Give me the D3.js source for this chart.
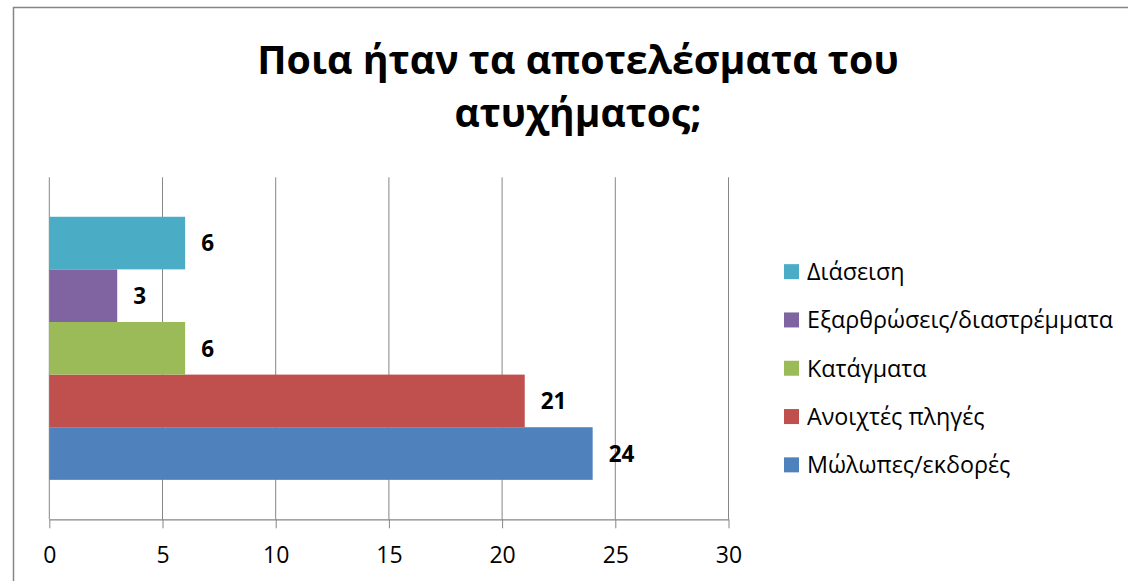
<!DOCTYPE html>
<html>
<head>
<meta charset="utf-8">
<script src="https://cdn.jsdelivr.net/npm/d3@7"></script>
<style>
  body { margin: 0; background: #fff; }
  svg { display: block; font-family: "Open Sans", "Noto Sans", sans-serif; }
</style>
</head>
<body>
<div id="chart"></div>
<script>
// chart data
var titleLines = ["Ποια ήταν τα αποτελέσματα του", "ατυχήματος;"];
var categories = [""];
var seriesNames = ["Μώλωπες/εκδορές", "Ανοιχτές πληγές", "Κατάγματα", "Εξαρθρώσεις/διαστρέμματα", "Διάσειση"];
var seriesValues = [24, 21, 6, 3, 6];
var seriesColors = ["#4F81BD", "#C0504D", "#9BBB59", "#8064A2", "#4BACC6"];
var xTicks = [0, 5, 10, 15, 20, 25, 30];

function init() {
    var w = 1128,
        h = 581;
    var plot = { left: 49.3, right: 728.5, top: 177.3, bottom: 519.3 };

    var svg = d3
        .select("#chart")
        .append("svg")
        .attr("width", w)
        .attr("height", h);

    // shrink/grow a text to a given width
    function fitWidth(sel, target) {
        var fs = parseFloat(sel.attr("font-size"));
        var len = sel.node().getComputedTextLength();
        sel.attr("font-size", fs * target / len);
    }

    // outer border (runs past the window on right and bottom)
    svg.append("rect")
        .attr("x", 13.5)
        .attr("y", 7.5)
        .attr("width", 1130)
        .attr("height", 600)
        .attr("fill", "none")
        .attr("stroke", "#868686")
        .attr("stroke-width", 1.5);

    // title
    var titleWidths = [642, 247];
    var titleBase = [73.5, 127];
    titleLines.forEach(function (t, i) {
        var tx = svg.append("text")
            .attr("x", 578)
            .attr("y", titleBase[i])
            .attr("text-anchor", "middle")
            .attr("font-weight", "bold")
            .attr("font-size", 40)
            .attr("fill", "#000")
            .text(t);
        fitWidth(tx, titleWidths[i]);
    });

    // scales
    var xScale = d3.scaleLinear().domain([0, 30]).range([plot.left, plot.right]);

    var catScale = d3.scaleBand()
        .domain(categories)
        .range([plot.top, plot.bottom])
        .paddingOuter(0.15)
        .paddingInner(0);

    var topToBottom = seriesNames.slice().reverse();
    var seriesScale = d3.scaleBand()
        .domain(topToBottom)
        .range([catScale(""), catScale("") + catScale.bandwidth()])
        .padding(0);

    var color = d3.scaleOrdinal().domain(seriesNames).range(seriesColors);

    // gridlines
    svg.append("g")
        .selectAll("line")
        .data(xTicks)
        .enter()
        .append("line")
        .attr("x1", d => xScale(d))
        .attr("x2", d => xScale(d))
        .attr("y1", plot.top)
        .attr("y2", plot.bottom)
        .attr("stroke", "#868686")
        .attr("stroke-width", 1);

    // bars
    var rows = seriesNames.map((s, i) => ({ name: s, value: seriesValues[i] }));

    svg.append("g")
        .selectAll("rect")
        .data(rows)
        .enter()
        .append("rect")
        .attr("x", xScale(0))
        .attr("y", d => seriesScale(d.name))
        .attr("width", d => xScale(d.value) - xScale(0))
        .attr("height", seriesScale.bandwidth())
        .attr("fill", d => color(d.name));

    // value labels
    svg.append("g")
        .selectAll("text")
        .data(rows)
        .enter()
        .append("text")
        .attr("x", d => xScale(d.value) + 16)
        .attr("y", d => seriesScale(d.name) + seriesScale.bandwidth() / 2)
        .attr("dy", "0.37em")
        .attr("font-weight", "bold")
        .attr("font-size", 22.5)
        .attr("fill", "#000")
        .text(d => d.value);

    // x axis
    var xAxis = d3.axisBottom(xScale)
        .tickValues(xTicks)
        .tickSize(9)
        .tickSizeOuter(0)
        .tickPadding(18.5);

    var axisG = svg.append("g")
        .attr("transform", "translate(0," + plot.bottom + ")")
        .call(xAxis);
    axisG.select(".domain").attr("stroke", "#868686").attr("stroke-width", 1.3);
    axisG.selectAll(".tick line").attr("stroke", "#868686").attr("stroke-width", 1);
    axisG.selectAll(".tick text")
        .attr("font-family", "'Open Sans', sans-serif")
        .attr("font-size", 23)
        .attr("fill", "#000");

    // legend
    var legendScale = d3.scaleBand()
        .domain(topToBottom)
        .range([247.5, 489]);

    var legend = svg.append("g");
    var items = legend.selectAll("g")
        .data(topToBottom)
        .enter()
        .append("g")
        .attr("transform", d => "translate(784," + (legendScale(d) + legendScale.bandwidth() / 2) + ")");

    items.append("rect")
        .attr("x", 0)
        .attr("y", -7.5)
        .attr("width", 15)
        .attr("height", 15)
        .attr("fill", d => color(d));

    var labels = items.append("text")
        .attr("x", 23)
        .attr("y", 0)
        .attr("dy", "0.36em")
        .attr("font-size", 22)
        .attr("fill", "#000")
        .text(d => d);

    // size legend font so the longest entry matches the reference width
    var longest = labels.filter(d => d === "Εξαρθρώσεις/διαστρέμματα");
    fitWidth(longest, 306);
    labels.attr("font-size", longest.attr("font-size"));
}

window.onload = init;
</script>
</body>
</html>
